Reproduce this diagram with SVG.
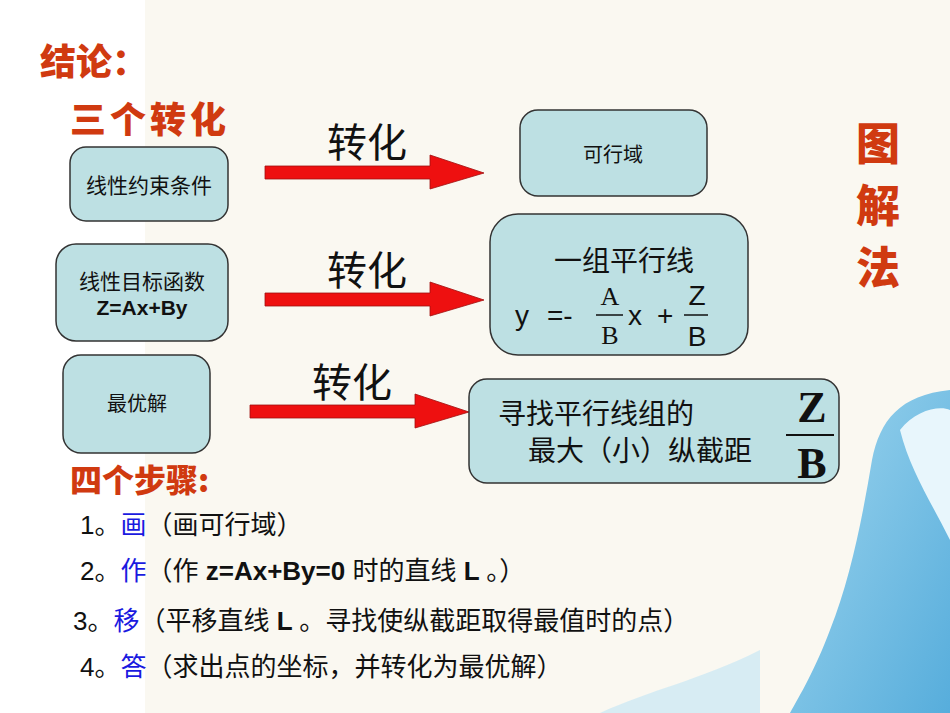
<svg xmlns="http://www.w3.org/2000/svg" width="950" height="713" viewBox="0 0 950 713">
<defs>
<style>
.box{fill:#bde0e3;stroke:#333;stroke-width:1.5}
.t{font-family:"Liberation Sans","Noto Sans CJK SC",sans-serif;fill:#111}
.red{font-family:"Noto Sans CJK SC",sans-serif;font-weight:900;fill:#d03a10}
.arr{fill:#ee1010;stroke:#a01010;stroke-width:0.8}
.blue{fill:#1a1ae0}
.serif{font-family:"Liberation Serif",serif;fill:#111}
</style>
<linearGradient id="water" x1="0" y1="0" x2="1" y2="1"><stop offset="0" stop-color="#8fd0ee"/><stop offset="1" stop-color="#3aa0d8"/></linearGradient>
</defs>
<rect width="950" height="713" fill="#ffffff"/>
<rect x="145" y="0" width="805" height="713" fill="#faf8f1"/>
<path d="M950,390 C900,395 880,420 872,460 C862,520 850,580 830,630 C815,670 800,695 790,713 L950,713 Z" fill="url(#water)" opacity="0.85"/>
<path d="M900,430 C915,410 940,405 950,410 L950,540 C930,500 910,470 900,430 Z" fill="#e8f6fc"/>
<path d="M600,713 C650,690 700,680 760,650 L760,713 Z" fill="#bfe4f5" opacity="0.6"/>

<g id="titles">
<text class="red" x="40" y="75" font-size="36">结论：</text>
<text class="red" x="70" y="133" font-size="36" letter-spacing="4">三个转化</text>
<text class="red" x="856" y="160" font-size="44">图</text>
<text class="red" x="856" y="222" font-size="44">解</text>
<text class="red" x="856" y="284" font-size="44">法</text>
<text class="red" x="70" y="492" font-size="32">四个步骤:</text>
</g>

<g id="connectors">
<path class="arr" d="M265,166 L430,166 L430,155 L484,173 L430,189 L430,179 L265,179 Z"/>
<text class="t" x="327" y="157" font-size="40">转化</text>
<path class="arr" d="M265,293 L430,293 L430,282 L484,300 L430,316 L430,306 L265,306 Z"/>
<text class="t" x="327" y="285" font-size="40">转化</text>
<path class="arr" d="M250,405 L415,405 L415,394 L469,412 L415,428 L415,418 L250,418 Z"/>
<text class="t" x="312" y="397" font-size="40">转化</text>
</g>

<g id="n1"><rect class="box" x="70" y="147" width="158" height="74" rx="16"/>
<text class="t" x="149" y="193" font-size="21" text-anchor="middle">线性约束条件</text></g>
<g id="n2"><rect class="box" x="56" y="244" width="172" height="97" rx="20"/>
<text class="t" x="142" y="289" font-size="21" text-anchor="middle">线性目标函数</text>
<text class="t" x="142" y="315" font-size="21" text-anchor="middle" font-weight="bold">Z=Ax+By</text></g>
<g id="n3"><rect class="box" x="63" y="355" width="147" height="98" rx="18"/>
<text class="t" x="137" y="411" font-size="20" text-anchor="middle">最优解</text></g>
<g id="n4"><rect class="box" x="520" y="110" width="187" height="86" rx="18"/>
<text class="t" x="613" y="162" font-size="20" text-anchor="middle">可行域</text></g>
<g id="n5"><rect class="box" x="490" y="214" width="258" height="141" rx="28"/>
<text class="t" x="624" y="271" font-size="28" text-anchor="middle">一组平行线</text>
<text class="t" x="515" y="325" font-size="28">y</text>
<text class="t" x="547" y="325" font-size="28">=-</text>
<text class="serif" x="610" y="305" font-size="26" text-anchor="middle">A</text>
<line x1="596" y1="315" x2="623" y2="315" stroke="#111" stroke-width="1.5"/>
<text class="serif" x="610" y="344" font-size="26" text-anchor="middle">B</text>
<text class="t" x="628" y="325" font-size="28">x</text>
<text class="t" x="657" y="325" font-size="28">+</text>
<text class="t" x="697" y="305" font-size="28" text-anchor="middle">Z</text>
<line x1="684" y1="315" x2="708" y2="315" stroke="#111" stroke-width="1.5"/>
<text class="t" x="697" y="346" font-size="28" text-anchor="middle">B</text></g>
<g id="n6"><rect class="box" x="469" y="379" width="370" height="104" rx="18"/>
<text class="t" x="498" y="424" font-size="28">寻找平行线组的</text>
<text class="t" x="528" y="461" font-size="28">最大（小）纵截距</text>
<text class="serif" x="812" y="422" font-size="44" font-weight="bold" text-anchor="middle">Z</text>
<line x1="786" y1="435" x2="834" y2="435" stroke="#111" stroke-width="2"/>
<text class="serif" x="812" y="478" font-size="44" font-weight="bold" text-anchor="middle">B</text></g>

<g id="steps" font-size="26">
<text class="t" x="80" y="534">1。<tspan class="blue">画</tspan>（画可行域）</text>
<text class="t" x="80" y="580">2。<tspan class="blue">作</tspan>（作 <tspan font-weight="bold">z=Ax+By=0</tspan> 时的直线<tspan font-weight="bold"> L </tspan>。）</text>
<text class="t" x="73" y="630">3。<tspan class="blue">移</tspan>（平移直线<tspan font-weight="bold"> L </tspan>。寻找使纵截距取得最值时的点）</text>
<text class="t" x="80" y="676">4。<tspan class="blue">答</tspan>（求出点的坐标，并转化为最优解）</text>
</g>
</svg>
